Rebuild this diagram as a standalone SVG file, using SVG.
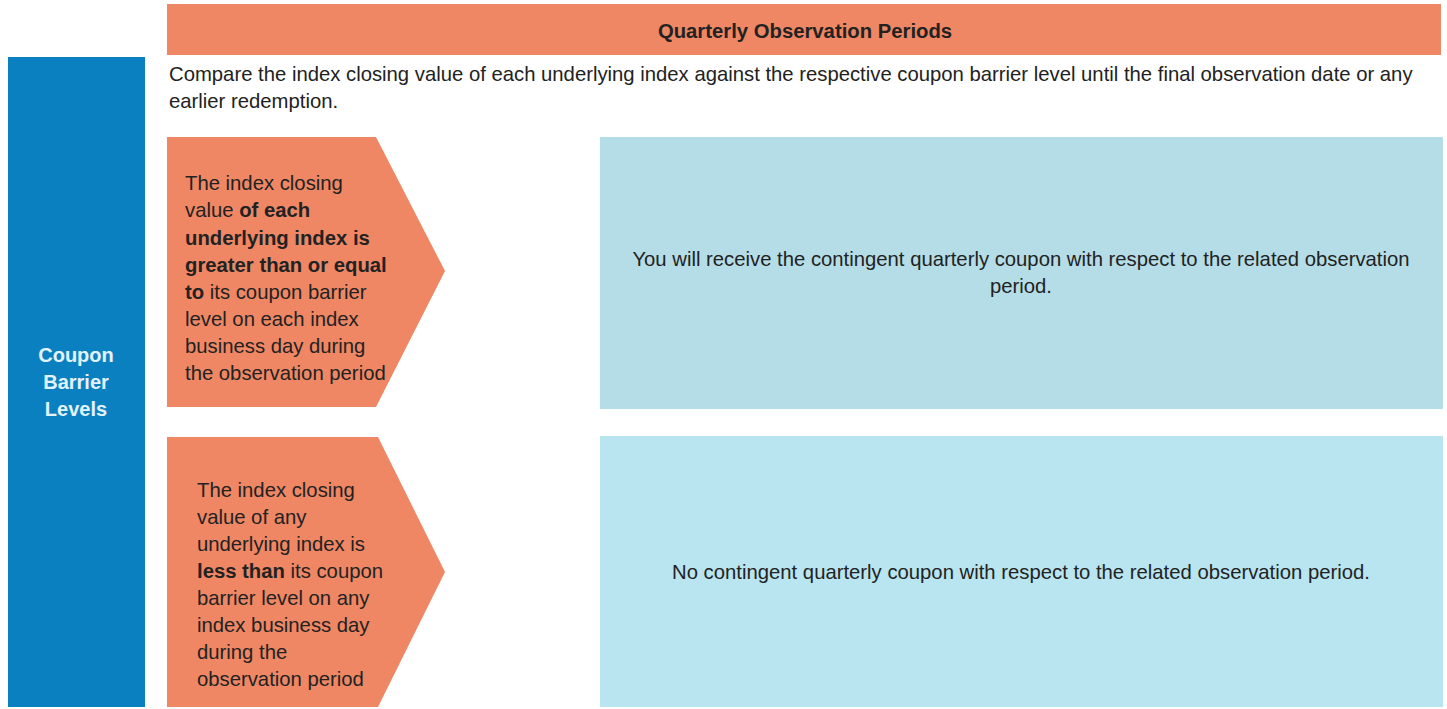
<svg xmlns="http://www.w3.org/2000/svg" width="1447" height="709" viewBox="0 0 1447 709">
<style>
text{font-family:"Liberation Sans",Arial,sans-serif;font-size:20.3px;fill:#222}
.b{font-weight:bold}
.orange{fill:#F08764}
.cw{fill:#E2F3FF;font-weight:bold;font-size:20px}
.mid{text-anchor:middle}
</style>
<rect width="1447" height="709" fill="#fff"/>
<g id="header">
<rect class="orange" x="167" y="4" width="1274" height="51"/>
<text class="b mid" x="805" y="38">Quarterly Observation Periods</text>
</g>
<g id="side">
<rect x="8" y="57" width="137" height="650" fill="#0A80C0"/>
<text class="cw mid" x="76" y="362">Coupon</text>
<text class="cw mid" x="76" y="389">Barrier</text>
<text class="cw mid" x="76" y="416">Levels</text>
</g>
<g id="intro">
<text x="169" y="81">Compare the index closing value of each underlying index against the respective coupon barrier level until the final observation date or any</text>
<text x="169" y="108">earlier redemption.</text>
</g>
<g id="cond1">
<polygon class="orange" points="167,137 376,137 445,271 376,407 167,407"/>
<text x="185" y="190">The index closing</text>
<text x="185" y="217">value <tspan class="b">of each</tspan></text>
<text x="185" y="245" class="b">underlying index is</text>
<text x="185" y="272" class="b">greater than or equal</text>
<text x="185" y="299"><tspan class="b">to</tspan> its coupon barrier</text>
<text x="185" y="326">level on each index</text>
<text x="185" y="353">business day during</text>
<text x="185" y="380">the observation period</text>
</g>
<g id="cond2">
<polygon class="orange" points="167,437 378,437 445,572 378,707 167,707"/>
<text x="197" y="497">The index closing</text>
<text x="197" y="524">value of any</text>
<text x="197" y="551">underlying index is</text>
<text x="197" y="578"><tspan class="b">less than</tspan> its coupon</text>
<text x="197" y="605">barrier level on any</text>
<text x="197" y="632">index business day</text>
<text x="197" y="659">during the</text>
<text x="197" y="686">observation period</text>
</g>
<g id="result1">
<rect x="600" y="137" width="843" height="272" fill="#B5DDE7"/>
<text class="mid" x="1021" y="266">You will receive the contingent quarterly coupon with respect to the related observation</text>
<text class="mid" x="1021" y="293">period.</text>
</g>
<g id="result2">
<rect x="600" y="436" width="843" height="271" fill="#B9E5F1"/>
<text class="mid" x="1021" y="579">No contingent quarterly coupon with respect to the related observation period.</text>
</g>
<g id="connectors"/>
</svg>
